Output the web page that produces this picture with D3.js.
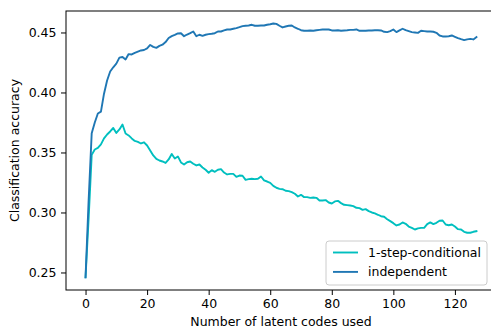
<!DOCTYPE html>
<html>
<head>
<meta charset="utf-8">
<script src="https://cdn.jsdelivr.net/npm/d3@7"></script>
<style>
  html, body { margin: 0; padding: 0; background: #fff; overflow: hidden; }
  svg { display: block; font-family: "DejaVu Sans", sans-serif; }
</style>
</head>
<body>
<svg id="chart"></svg>
<script>
// number of latent codes used (x), one per step
const codes = d3.range(0, 128);

const independent = [
  0.246, 0.31, 0.366, 0.375, 0.3825, 0.384, 0.399, 0.410, 0.4175, 0.421,
  0.424, 0.429, 0.4296, 0.4275, 0.432, 0.4317, 0.433, 0.434, 0.435, 0.4354,
  0.4367, 0.4396, 0.438, 0.4372, 0.4388, 0.4398, 0.442, 0.4454, 0.447, 0.448,
  0.4492, 0.4494, 0.4469, 0.4483, 0.4494, 0.4508, 0.4469, 0.4481, 0.4472, 0.4481,
  0.4486, 0.4489, 0.4494, 0.4508, 0.4508, 0.4517, 0.4525, 0.4525, 0.4531, 0.4536,
  0.4544, 0.4553, 0.4556, 0.4558, 0.4564, 0.4556, 0.4556, 0.4558, 0.4558, 0.4564,
  0.4569, 0.4575, 0.4572, 0.4556, 0.4542, 0.455, 0.4556, 0.4558, 0.4542, 0.4531,
  0.4519, 0.4514, 0.4514, 0.4517, 0.4514, 0.4519, 0.4522, 0.4525, 0.4525, 0.4525,
  0.4517, 0.4517, 0.4519, 0.4514, 0.4517, 0.4519, 0.4522, 0.4522, 0.4525, 0.4514,
  0.4514, 0.4514, 0.4517, 0.4517, 0.4519, 0.4519, 0.4517, 0.4506, 0.4503, 0.4511,
  0.4525, 0.4503, 0.4517, 0.4531, 0.4519, 0.4511, 0.4503, 0.45, 0.4497, 0.4514,
  0.4511, 0.4508, 0.4508, 0.4506, 0.4497, 0.4475, 0.4467, 0.4467, 0.4469, 0.4475,
  0.4464, 0.4453, 0.4444, 0.4436, 0.4442, 0.4447, 0.4442, 0.4461
];

const conditional = [
  0.246, 0.295, 0.348, 0.3525, 0.3538, 0.3567, 0.3617, 0.365, 0.3675, 0.3704,
  0.3663, 0.3692, 0.3733, 0.3658, 0.3642, 0.3617, 0.3596, 0.3588, 0.3575, 0.3585,
  0.3558, 0.3517, 0.3475, 0.3446, 0.3433, 0.3425, 0.3413, 0.3442, 0.3488, 0.345,
  0.3467, 0.3417, 0.34, 0.3419, 0.3425, 0.3406, 0.3392, 0.34, 0.3375, 0.3356,
  0.3331, 0.3353, 0.3339, 0.3356, 0.3361, 0.3333, 0.3317, 0.3322, 0.3322, 0.3297,
  0.3308, 0.3306, 0.3272, 0.3278, 0.3281, 0.3278, 0.3281, 0.33, 0.3267, 0.3258,
  0.3247, 0.3222, 0.3206, 0.3197, 0.3194, 0.3181, 0.3178, 0.3169, 0.3156, 0.3133,
  0.3147, 0.3128, 0.3128, 0.3122, 0.3125, 0.3122, 0.31, 0.31, 0.3103, 0.3083,
  0.3075, 0.3092, 0.3097, 0.3078, 0.3064, 0.3061, 0.3058, 0.3053, 0.3039, 0.3036,
  0.3022, 0.3028, 0.3011, 0.30, 0.2992, 0.2981, 0.2969, 0.2964, 0.2944, 0.2928,
  0.2911, 0.2892, 0.29, 0.2917, 0.2906, 0.2883, 0.2872, 0.2858, 0.2867, 0.2872,
  0.2872, 0.2903, 0.2917, 0.2903, 0.2914, 0.2931, 0.2933, 0.29, 0.2894, 0.29,
  0.2883, 0.2861, 0.2858, 0.2839, 0.2831, 0.2831, 0.2839, 0.2844
];

const xTicks = [0, 20, 40, 60, 80, 100, 120];
const yTicks = [0.25, 0.30, 0.35, 0.40, 0.45];

const series = [
  { name: "1-step-conditional", values: conditional, color: "#00bfbf" },
  { name: "independent", values: independent, color: "#1f77b4" }
];

const W = 491, H = 330;
const FS = "12.5px";
const margin = { top: 11, right: -5, bottom: 40, left: 66 };
const width = W - margin.left - margin.right;
const height = H - margin.top - margin.bottom;

const svg = d3.select("#chart")
  .attr("width", W)
  .attr("height", H);

const g = svg.append("g")
  .attr("transform", "translate(" + margin.left + "," + margin.top + ")");

const x = d3.scaleLinear()
  .domain([-6.35, 133.35])
  .range([0, width]);

const y = d3.scaleLinear()
  .domain([0.2354, 0.4679])
  .range([height, 0]);

// lines
const line = d3.line()
  .x((d, i) => x(codes[i]))
  .y(d => y(d));

g.selectAll(".series")
  .data(series)
  .join("path")
  .attr("class", "series")
  .attr("fill", "none")
  .attr("stroke", d => d.color)
  .attr("stroke-width", 1.9)
  .attr("stroke-linejoin", "round")
  .attr("stroke-linecap", "square")
  .attr("d", d => line(d.values));

// axes
const xAxis = g.append("g")
  .attr("transform", "translate(0," + height + ")")
  .call(d3.axisBottom(x).tickValues(xTicks).tickSize(5).tickPadding(4.5).tickFormat(d3.format("d")));

const yAxis = g.append("g")
  .call(d3.axisLeft(y).tickValues(yTicks).tickSize(5).tickPadding(4.5).tickFormat(d3.format(".2f")));

[xAxis, yAxis].forEach(a => {
  a.select(".domain").remove();
  a.selectAll("line").attr("stroke", "#000").attr("stroke-width", 1);
  a.selectAll("text").attr("fill", "#000").style("font-size", FS).style("font-family", "DejaVu Sans, sans-serif");
});

// frame
g.append("rect")
  .attr("x", 0).attr("y", 0)
  .attr("width", width).attr("height", height)
  .attr("fill", "none")
  .attr("stroke", "#000")
  .attr("stroke-width", 1);

// axis labels
svg.append("text")
  .attr("x", margin.left + width / 2)
  .attr("y", 326)
  .attr("text-anchor", "middle")
  .style("font-size", FS)
  .text("Number of latent codes used");

svg.append("text")
  .attr("transform", "translate(18.5," + (margin.top + height / 2) + ") rotate(-90)")
  .attr("text-anchor", "middle")
  .style("font-size", FS)
  .text("Classification accuracy");

// legend
const legend = svg.append("g").attr("transform", "translate(326,241)");
legend.append("rect")
  .attr("width", 161).attr("height", 44)
  .attr("rx", 3)
  .attr("fill", "#fff").attr("fill-opacity", 0.8)
  .attr("stroke", "#cccccc").attr("stroke-width", 1);

const items = legend.selectAll(".item")
  .data(series)
  .join("g")
  .attr("class", "item")
  .attr("transform", (d, i) => "translate(7," + (11.5 + i * 19.4) + ")");

items.append("line")
  .attr("x1", 0).attr("x2", 25)
  .attr("stroke", d => d.color)
  .attr("stroke-width", 1.9);

items.append("text")
  .attr("x", 35).attr("dy", "0.35em")
  .style("font-size", FS)
  .text(d => d.name);
</script>
</body>
</html>
